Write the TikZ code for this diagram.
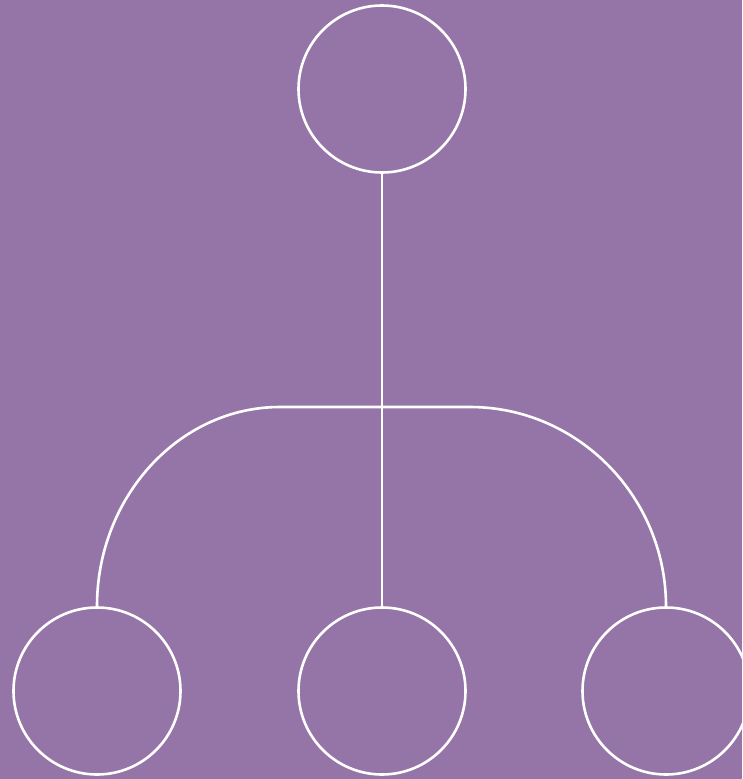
\documentclass[tikz,border=0pt]{standalone}
\definecolor{bgpurple}{RGB}{149,117,167}
\begin{document}
\begin{tikzpicture}[x=1pt,y=-1pt,
  circ/.style={circle,draw=white,line width=2.6pt,minimum size=167pt,inner sep=0pt},
  conn/.style={draw=white,line width=2.6pt}]
\fill[bgpurple] (0,0) rectangle (742,779);
\useasboundingbox (0,0) rectangle (742,779);
\node[circ] (top) at (382,89) {};
\node[circ] (left) at (97,691) {};
\node[circ] (mid) at (382,691) {};
\node[circ] (right) at (666,691) {};
\coordinate (j) at (382,407);
\coordinate (lc) at (280,407);
\coordinate (rc) at (470,407);
\draw[conn] (top.south) -- (mid.north);
\draw[conn] (j) -- (lc) .. controls (179,407) and (97,497) .. (left.north);
\draw[conn] (j) -- (rc) .. controls (578,407) and (666,497) .. (right.north);
\end{tikzpicture}
\end{document}
